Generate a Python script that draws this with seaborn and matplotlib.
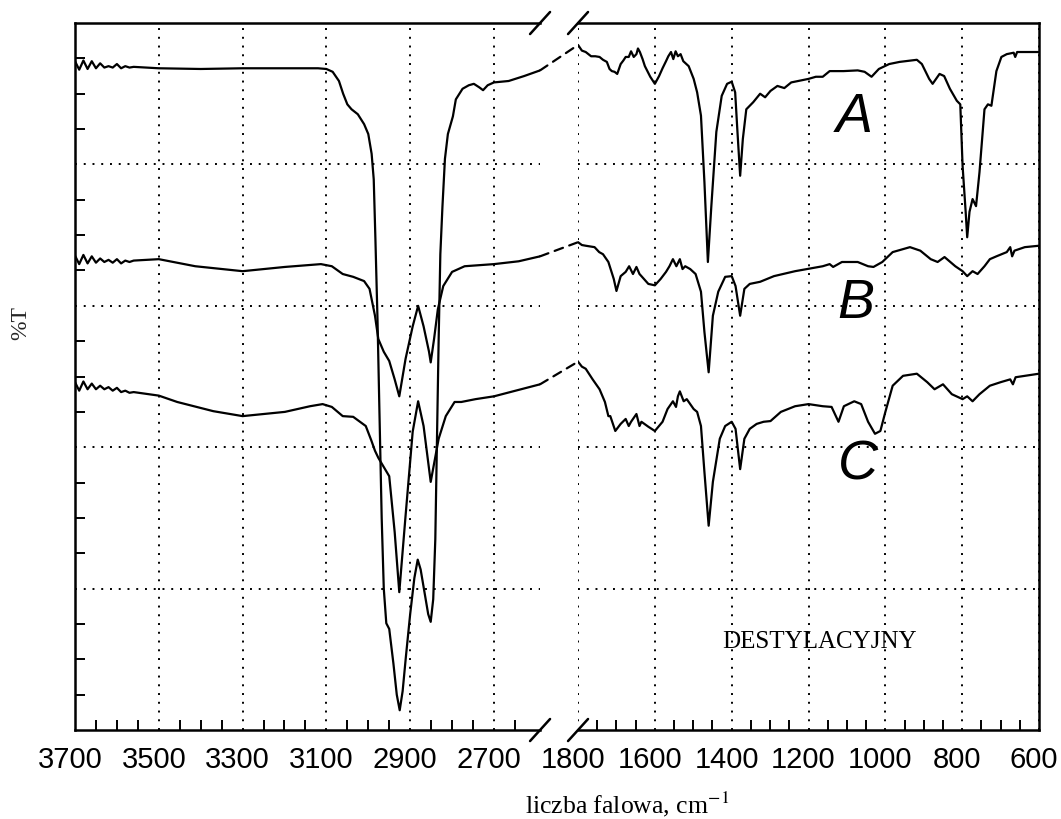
import pandas as pd
import seaborn as sns
import matplotlib.pyplot as plt
from matplotlib.patches import ConnectionPatch
from matplotlib.transforms import ScaledTranslation

# Widma IR (%T), os x przerwana: 3700-2590 i 1800-600 cm-1
wn_a_lewy = [3700, 3690, 3680, 3670, 3660, 3650, 3640, 3630, 3620, 3610, 3600, 3590, 3580, 3570,
             3560, 3500, 3400, 3300, 3200, 3120, 3100, 3085, 3070, 3060, 3050, 3040, 3025,
             3010, 3000, 2992, 2987, 2983, 2978, 2973, 2968, 2963, 2957, 2950, 2940, 2932, 2925,
             2918, 2910, 2900, 2890, 2882, 2875, 2865, 2857, 2851, 2845, 2840, 2836, 2832, 2828,
             2823, 2817, 2810, 2798, 2791, 2775, 2760, 2748, 2735, 2726, 2715, 2700, 2665, 2628, 2590]
t_a_lewy = [94.6, 93.4, 94.7, 93.5, 94.6, 93.6, 94.3, 93.7, 93.9, 93.7, 94.2, 93.6, 93.9, 93.7,
            93.8, 93.6, 93.5, 93.6, 93.6, 93.6, 93.5, 93.1, 91.8, 90.0, 88.5, 87.8, 87.1,
            85.7, 84.3, 81.5, 77.9, 69.5, 58.1, 44.0, 30.0, 20.0, 15.1, 14.3, 9.4, 5.0, 2.8,
            5.5, 10.5, 16.4, 21.5, 24.1, 22.7, 19.2, 16.4, 15.3, 18.5, 27.0, 41.2, 55.3, 67.3,
            74.0, 80.8, 84.3, 86.8, 89.2, 90.7, 91.2, 91.4, 90.9, 90.5, 91.2, 91.6, 91.8, 92.5, 93.3]

wn_b_lewy = [3700, 3690, 3680, 3670, 3660, 3650, 3640, 3630, 3620, 3610, 3600, 3590, 3580, 3570,
             3560, 3500, 3413, 3300, 3199, 3113, 3087, 3061, 3036, 3010, 2997, 2984, 2976, 2963,
             2950, 2937, 2926, 2911, 2894, 2881, 2868, 2855, 2851, 2843, 2834, 2821, 2800, 2770,
             2700, 2641, 2590]
t_b_lewy = [67.1, 65.9, 67.2, 66.0, 67.0, 66.1, 66.7, 66.2, 66.5, 66.1, 66.6, 66.0, 66.4, 66.2,
            66.4, 66.6, 65.6, 64.9, 65.5, 65.9, 65.6, 64.5, 64.1, 63.5, 62.4, 58.6, 55.3, 53.5,
            52.2, 49.6, 47.2, 52.5, 57.1, 60.0, 57.1, 53.5, 52.0, 55.3, 59.5, 62.8, 64.8, 65.6,
            65.9, 66.3, 67.0]

wn_c_lewy = [3700, 3690, 3680, 3670, 3660, 3650, 3640, 3630, 3620, 3610, 3600, 3590, 3580, 3570,
             3560, 3500, 3456, 3370, 3300, 3199, 3139, 3109, 3087, 3061, 3036, 3006, 2993, 2984,
             2976, 2963, 2950, 2937, 2926, 2911, 2894, 2881, 2868, 2851, 2841, 2832, 2815, 2794,
             2778, 2744, 2700, 2590]
t_c_lewy = [49.2, 48.0, 49.3, 48.2, 49.0, 48.2, 48.7, 48.2, 48.5, 48.0, 48.4, 47.8, 48.0, 47.7,
            47.8, 47.3, 46.4, 45.1, 44.4, 45.0, 45.8, 46.1, 45.7, 44.4, 44.3, 43.0, 41.0, 39.5,
            38.5, 37.2, 35.9, 28.0, 19.5, 30.3, 42.2, 46.5, 43.0, 35.1, 38.3, 41.2, 44.4, 46.4,
            46.4, 46.8, 47.2, 48.9]

wn_a_prawy = [1800, 1790, 1780, 1766, 1755, 1744, 1735, 1725, 1718, 1712, 1705, 1698, 1689, 1682,
              1676, 1668, 1662, 1655, 1648, 1644, 1639, 1632, 1626, 1612, 1600, 1589, 1580, 1571,
              1565, 1558, 1552, 1546, 1540, 1533, 1526, 1512, 1499, 1490, 1480, 1471, 1462, 1453,
              1440, 1426, 1412, 1400, 1391, 1385, 1378, 1371, 1362, 1344, 1326, 1313, 1299, 1281,
              1263, 1245, 1200, 1181, 1163, 1145, 1109, 1072, 1054, 1036, 1017, 990, 963, 918,
              905, 886, 877, 859, 847, 832, 814, 805, 799, 791, 787, 781, 773, 764, 755, 742,
              733, 724, 711, 698, 684, 666, 662, 657, 600]
t_a_prawy = [96.9, 96.1, 95.9, 95.3, 95.3, 95.2, 94.8, 94.5, 93.5, 93.2, 93.1, 92.8, 94.2, 94.7,
             95.2, 95.2, 96.0, 95.2, 95.6, 96.4, 95.9, 94.9, 93.9, 92.4, 91.4, 92.5, 93.6, 94.6,
             95.3, 95.9, 94.9, 96.0, 95.3, 95.6, 94.6, 93.9, 92.1, 90.2, 86.9, 77.5, 66.2, 74.1,
             84.6, 89.7, 91.4, 91.7, 90.2, 84.6, 78.4, 83.6, 87.8, 88.8, 90.0, 89.5, 90.4, 91.1,
             90.8, 91.6, 92.1, 92.4, 92.4, 93.2, 93.2, 93.3, 93.1, 92.4, 93.5, 94.2, 94.5, 94.8,
             94.2, 92.1, 91.4, 92.8, 92.5, 90.7, 89.0, 88.5, 79.8, 73.3, 69.7, 73.3, 75.1, 74.1,
             78.9, 87.8, 88.5, 88.3, 93.2, 95.2, 95.6, 95.8, 95.2, 95.9, 95.9]

wn_b_prawy = [1800, 1790, 1780, 1757, 1745, 1735, 1721, 1707, 1700, 1689, 1676, 1667, 1657, 1648,
              1640, 1635, 1617, 1600, 1585, 1571, 1562, 1553, 1544, 1535, 1528, 1521, 1508, 1494,
              1480, 1471, 1460, 1449, 1435, 1417, 1400, 1390, 1378, 1367, 1353, 1326, 1290, 1235,
              1163, 1145, 1136, 1113, 1072, 1045, 1031, 1008, 981, 936, 909, 882, 864, 846,
              818, 799, 787, 773, 760, 742, 728, 711, 684, 675, 670, 664, 637, 600]
t_b_prawy = [69.0, 68.6, 68.5, 68.3, 67.6, 67.3, 66.2, 63.8, 62.1, 64.2, 64.8, 65.6, 64.5, 65.5,
             64.5, 64.2, 63.1, 62.9, 63.8, 64.8, 65.6, 66.6, 65.6, 66.6, 65.2, 65.6, 65.2, 64.5,
             62.0, 56.3, 50.6, 58.6, 62.0, 64.1, 64.2, 62.8, 58.6, 62.4, 63.1, 63.4, 64.2, 64.9,
             65.6, 65.9, 65.5, 66.2, 66.2, 65.6, 65.5, 66.2, 67.6, 68.3, 67.8, 66.6, 66.2, 66.9,
             65.6, 64.9, 64.2, 64.9, 64.5, 65.6, 66.6, 67.0, 67.6, 68.3, 67.0, 67.8, 68.3, 68.5]

wn_c_prawy = [1800, 1790, 1780, 1762, 1744, 1730, 1721, 1716, 1703, 1689, 1676, 1668, 1662, 1648,
              1640, 1635, 1617, 1600, 1580, 1567, 1553, 1545, 1540, 1535, 1525, 1517, 1499, 1490,
              1480, 1471, 1460, 1449, 1431, 1417, 1400, 1390, 1378, 1367, 1353, 1335, 1317, 1299,
              1272, 1235, 1200, 1163, 1140, 1122, 1108, 1081, 1063, 1045, 1027, 1013, 1000, 981,
              954, 918, 891, 872, 850, 827, 799, 787, 773, 755, 728, 700, 675, 668, 661, 600]
t_c_prawy = [52.1, 51.4, 51.1, 49.6, 48.2, 46.4, 44.4, 44.4, 42.3, 43.3, 44.0, 43.0, 43.6, 44.7,
             43.0, 43.6, 42.9, 42.3, 43.6, 45.4, 46.5, 45.7, 47.2, 47.9, 46.5, 46.8, 45.4, 45.0,
             43.0, 36.5, 28.9, 35.1, 41.2, 43.0, 43.6, 42.6, 36.9, 41.2, 42.6, 43.3, 43.6, 43.7,
             45.0, 45.8, 46.1, 45.8, 45.7, 43.6, 45.8, 46.5, 46.1, 43.6, 41.9, 42.3, 45.0, 48.7,
             50.1, 50.4, 49.2, 48.2, 48.9, 47.5, 46.8, 47.2, 46.5, 47.5, 48.7, 49.2, 49.6, 48.9,
             49.9, 50.4]

probki = ["A", "B", "C"]
# podpisy widm: (liczba falowa, %T) w prawym panelu
podpisy_wn = [1080, 1077, 1070]
podpisy_t = [84.7, 58.4, 35.6]

ticki_lewy = [3700, 3500, 3300, 3100, 2900, 2700]
ticki_prawy = [1800, 1600, 1400, 1200, 1000, 800, 600]

sns.set_theme(style="white", rc={"axes.edgecolor": "black", "text.color": "black",
                                 "xtick.color": "black", "ytick.color": "black"})
plt.rcParams["font.family"] = ["Liberation Sans", "DejaVu Sans"]
plt.rcParams["mathtext.fontset"] = "stix"


def ramka(lista_wn, lista_t):
    """Skleja trzy widma w jedna tabele (format long) dla seaborn."""
    czesci = []
    for p, w, t in zip(probki, lista_wn, lista_t):
        czesci.append(pd.DataFrame({"wn": w, "T": t, "probka": p}))
    return pd.concat(czesci, ignore_index=True)


lewy = ramka([wn_a_lewy, wn_b_lewy, wn_c_lewy], [t_a_lewy, t_b_lewy, t_c_lewy])
prawy = ramka([wn_a_prawy, wn_b_prawy, wn_c_prawy], [t_a_prawy, t_b_prawy, t_c_prawy])

fig = plt.figure(figsize=(10.61, 8.2), dpi=100)
ax1 = fig.add_axes([0.0707, 0.1085, 0.4383, 0.8622])
ax2 = fig.add_axes([0.5448, 0.1085, 0.4345, 0.8622])

sns.lineplot(data=lewy, x="wn", y="T", units="probka", estimator=None, sort=False,
             color="black", linewidth=1.6, ax=ax1)
sns.lineplot(data=prawy, x="wn", y="T", units="probka", estimator=None, sort=False,
             color="black", linewidth=1.6, ax=ax2)

ax1.set_xlim(3700, 2590)
ax2.set_xlim(1800, 600)
kropki = (0, (1, 3.5))
for ax, ticki in [(ax1, ticki_lewy), (ax2, ticki_prawy)]:
    ax.set_ylim(0, 100)
    ax.set_xticks(ticki)
    ax.set_xticklabels([str(t) for t in ticki])
    mniejsze = [v for v in range(min(ticki) - 50, max(ticki) + 50, 50)
                if v not in ticki and ax.get_xlim()[1] < v < ax.get_xlim()[0]]
    ax.set_xticks(mniejsze, minor=True)
    ax.set_yticks([20, 40, 60, 80])
    ax.tick_params(axis="x", which="major", length=0, pad=11, labelsize=21, bottom=True)
    ax.tick_params(axis="x", which="minor", length=7.5, width=1.4, direction="in", bottom=True)
    ax.grid(True, which="major", color="black", linestyle=kropki, linewidth=1.4)
    ax.set_axisbelow(True)
    ax.set_xlabel("")
    ax.set_ylabel("")
    for s in ax.spines.values():
        s.set_linewidth(1.8)
        s.set_color("black")

ax1.spines["right"].set_visible(False)
ax2.spines["left"].set_visible(False)
ax1.set_yticks([v for v in range(5, 100, 5) if v % 20 != 0], minor=True)
ax1.tick_params(axis="y", which="major", length=0, labelleft=False)
ax1.tick_params(axis="y", which="minor", length=7.5, width=1.4, direction="in", left=True)
ax2.tick_params(axis="y", which="both", length=0, labelleft=False, left=False)

# podpisy osi x sa w oryginale lekko przesuniete w lewo
przesun = ScaledTranslation(-0.05, 0, fig.dpi_scale_trans)
for ax in (ax1, ax2):
    for lab in ax.get_xticklabels():
        lab.set_transform(lab.get_transform() + przesun)

# znaczki przerwania osi
dx1, dx2, dy = 0.0215, 0.0217, 0.0156
for y0 in (0, 1):
    ax1.plot([1 - dx1, 1 + dx1], [y0 - dy, y0 + dy], transform=ax1.transAxes,
             color="black", lw=1.8, clip_on=False)
    ax2.plot([-dx2, dx2], [y0 - dy, y0 + dy], transform=ax2.transAxes,
             color="black", lw=1.8, clip_on=False)

# przerywane polaczenie widm nad przerwa
for wl, tl, wp, tp in [(wn_a_lewy, t_a_lewy, wn_a_prawy, t_a_prawy),
                       (wn_b_lewy, t_b_lewy, wn_b_prawy, t_b_prawy),
                       (wn_c_lewy, t_c_lewy, wn_c_prawy, t_c_prawy)]:
    lacznik = ConnectionPatch(xyA=(wl[-1], tl[-1]), coordsA=ax1.transData,
                              xyB=(wp[0], tp[0]), coordsB=ax2.transData,
                              color="black", lw=1.6, linestyle=(0, (4, 3)))
    fig.add_artist(lacznik)

for p, x, y in zip(probki, podpisy_wn, podpisy_t):
    ax2.text(x, y, p, fontsize=40, fontstyle="italic", ha="center", va="baseline")

ax2.text(1172, 11.7, "DESTYLACYJNY", fontsize=18, family="Liberation Serif",
         ha="center", va="baseline")

ax1.set_ylabel("%T", fontsize=17, family="Liberation Serif", va="center")
ax1.yaxis.set_label_coords(-0.116, 0.577)
fig.text(0.591, 0.0085, "liczba falowa, cm$^{-1}$", fontsize=18.5, family="Liberation Serif",
         ha="center", va="baseline")

fig.savefig("out.png", dpi=100)
